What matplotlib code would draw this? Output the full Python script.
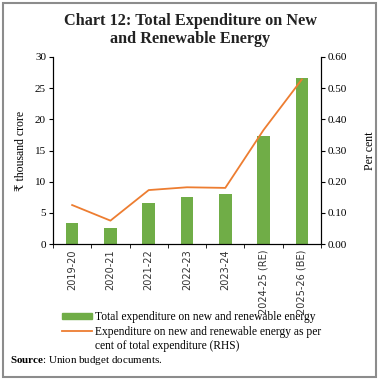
import matplotlib
matplotlib.use("Agg")
import matplotlib.pyplot as plt
from matplotlib.patches import Rectangle, Patch
from matplotlib.lines import Line2D

years = ["2019-20", "2020-21", "2021-22", "2022-23", "2023-24", "2024-25 (RE)", "2025-26 (BE)"]
expenditure = [3.3, 2.6, 6.6, 7.6, 8.0, 17.3, 26.6]
share_pct = [0.125, 0.075, 0.173, 0.182, 0.180, 0.366, 0.528]

green = "#70AD47"
orange = "#ED7D31"
serif = ["Liberation Serif", "DejaVu Serif"]

plt.rcParams["font.family"] = serif
plt.rcParams["mathtext.fontset"] = "custom"
plt.rcParams["mathtext.rm"] = "Liberation Serif"
plt.rcParams["mathtext.bf"] = "Liberation Serif:bold"

fig = plt.figure(figsize=(3.8, 3.81), dpi=100)
ax = fig.add_axes([53 / 380, 1 - 244 / 381, 268 / 380, 187 / 381])
ax2 = ax.twinx()

x = list(range(len(years)))
ax.bar(x, expenditure, width=0.33, color=green, zorder=2)
ax2.plot(x, share_pct, color=orange, lw=1.3, zorder=3)

ax.set_xlim(-0.5, len(years) - 0.5)
ax.set_ylim(0, 30)
ax.set_yticks(range(0, 31, 5))
ax2.set_ylim(0, 0.6)
ax2.set_yticks([i / 10 for i in range(7)])
ax2.set_yticklabels([f"{i / 10:.2f}" for i in range(7)])

ax.set_xticks(x)
ax.set_xticklabels(years, rotation=90, fontsize=7, family=["DejaVu Sans"], color="#333333")
ax.set_xticks([i + 0.5 for i in range(-1, len(years))], minor=True)
ax.tick_params(axis="x", which="major", length=0, pad=4)
ax.tick_params(axis="x", which="minor", length=3, direction="out")
ax.tick_params(axis="y", labelsize=8, length=3, pad=2)
ax2.tick_params(axis="y", labelsize=8, length=3, pad=2)

for a in (ax, ax2):
    a.spines["top"].set_visible(False)
    for s in a.spines.values():
        s.set_linewidth(0.8)

ax.set_ylabel("₹ thousand crore", fontsize=8.5, labelpad=6)
ax2.set_ylabel("Per cent", fontsize=8.5, labelpad=12)

fig.text(0.5, 1 - 25 / 381, "Chart 12: Total Expenditure on New", ha="center", va="baseline",
         fontsize=11.7, fontweight="bold", color="#222222")
fig.text(0.5, 1 - 43 / 381, "and Renewable Energy", ha="center", va="baseline",
         fontsize=11.7, fontweight="bold", color="#222222")

handles = [Patch(color=green), Line2D([0], [0], color=orange, lw=1.3),
           Line2D([0], [0], linestyle="none")]
labels = ["Total expenditure on new and renewable energy",
          "Expenditure on new and renewable energy as per",
          "cent of total expenditure (RHS)"]
fig.legend(handles, labels, loc="upper left", bbox_to_anchor=(62 / 380, 1 - 311 / 381),
           frameon=False, fontsize=8.3, handlelength=2.6, handleheight=0.45,
           handletextpad=0.3, labelspacing=0.22, borderaxespad=0, borderpad=0)

fig.text(10 / 380, 1 - 363 / 381, r"$\mathbf{Source}$: Union budget documents.", fontsize=7.9,
         va="baseline")

fig.patches.append(Rectangle((3 / 380, 4 / 381), 373 / 380, 374 / 381, transform=fig.transFigure,
                             fill=False, edgecolor="#8c8c8c", lw=1.5))

fig.savefig("out.png", dpi=100)
